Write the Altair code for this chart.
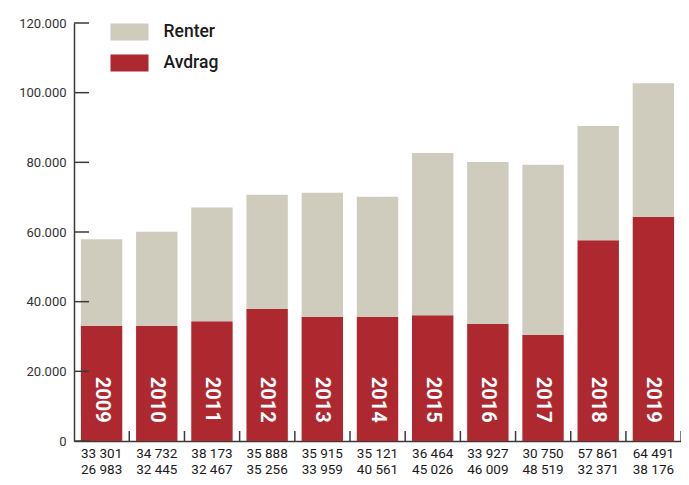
import altair as alt
import pandas as pd

years = ["2009", "2010", "2011", "2012", "2013", "2014", "2015", "2016", "2017", "2018", "2019"]
avdrag = [33000, 33000, 34400, 37900, 35600, 35600, 36100, 33600, 30400, 57600, 64400]
renter = [24900, 27100, 32600, 32800, 35700, 34500, 46600, 46500, 48900, 32800, 38300]
row1 = ["33 301", "34 732", "38 173", "35 888", "35 915", "35 121", "36 464", "33 927", "30 750", "57 861", "64 491"]
row2 = ["26 983", "32 445", "32 467", "35 256", "33 959", "40 561", "45 026", "46 009", "48 519", "32 371", "38 176"]
y_ticks = [0, 20000, 40000, 60000, 80000, 100000, 120000]

RED = "#AE2830"
BEIGE = "#CFCCBD"
AXIS = "#3a3a3a"
FONT = "Liberation Sans Narrow, Roboto"
BFONT = "Roboto"

rows = []
for i, yr in enumerate(years):
    rows.append({"year": yr, "series": "Avdrag", "value": avdrag[i], "order": 0})
    rows.append({"year": yr, "series": "Renter", "value": renter[i], "order": 1})
df = pd.DataFrame(rows)
lab = pd.DataFrame({"year": years, "r1": row1, "r2": row2})
tdf = pd.DataFrame({"v": y_ticks})

W, H = 607, 418

xscale = alt.Scale(paddingInner=0.25, paddingOuter=0.125)
yscale = alt.Scale(domain=[0, 120000], nice=False)

bars = alt.Chart(df).mark_bar().encode(
    x=alt.X("year:N", sort=years, scale=xscale,
            axis=alt.Axis(labels=False, ticks=False, title=None,
                          domainColor=AXIS, domainWidth=1.5)),
    y=alt.Y("value:Q", stack="zero", scale=yscale,
            axis=alt.Axis(values=y_ticks, tickSize=0, labelPadding=8, title=None,
                          grid=False, domainColor=AXIS, domainWidth=1.5,
                          labelFont=FONT, labelFontSize=13, labelColor="#333",
                          labelExpr="datum.value == 0 ? '0' : replace(format(datum.value, ','), ',', '.')")),
    color=alt.Color("series:N",
                    scale=alt.Scale(domain=["Renter", "Avdrag"], range=[BEIGE, RED]),
                    legend=alt.Legend(title=None, orient="none", legendX=36.5, legendY=-10,
                                      symbolType="M-1,-0.447L1,-0.447L1,0.447L-1,0.447Z",
                                      symbolSize=1444, symbolStrokeWidth=0,
                                      symbolOpacity=1, rowPadding=3,
                                      labelFont=BFONT, labelFontSize=17.5, labelFontWeight=500,
                                      labelColor="#1a1a1a", labelOffset=15, padding=0)),
    order=alt.Order("order:Q"),
)

year_text = alt.Chart(lab).mark_text(
    angle=90, color="white", fontWeight="bold", fontSize=20, font=BFONT,
    align="center", baseline="middle"
).encode(
    x=alt.X("year:N", sort=years),
    y=alt.datum(11860),
    text="year:N",
)

num1 = alt.Chart(lab).mark_text(font=FONT, fontSize=13.5, color="#1a1a1a", baseline="alphabetic").encode(
    x=alt.X("year:N", sort=years), y=alt.value(H + 17), text="r1:N")
num2 = alt.Chart(lab).mark_text(font=FONT, fontSize=13.5, color="#1a1a1a", baseline="alphabetic").encode(
    x=alt.X("year:N", sort=years), y=alt.value(H + 33), text="r2:N")

yt = alt.Chart(tdf).mark_rule(color=AXIS, strokeWidth=1.5).encode(
    y=alt.Y("v:Q"), x=alt.value(0), x2=alt.value(15))

xt = alt.Chart(lab).mark_rule(color=AXIS, strokeWidth=1.5, xOffset=7).encode(
    x=alt.X("year:N", sort=years, bandPosition=1), y=alt.value(H), y2=alt.value(H - 10))

chart = alt.layer(bars, year_text, num1, num2, yt, xt).properties(
    width=W, height=H,
    autosize=alt.AutoSizeParams(type="none"),
    padding={"left": 66, "top": 15, "right": 0, "bottom": 36},
).configure_view(stroke=None)

chart.save("out.html", embed_options={"renderer": "svg", "actions": False})
